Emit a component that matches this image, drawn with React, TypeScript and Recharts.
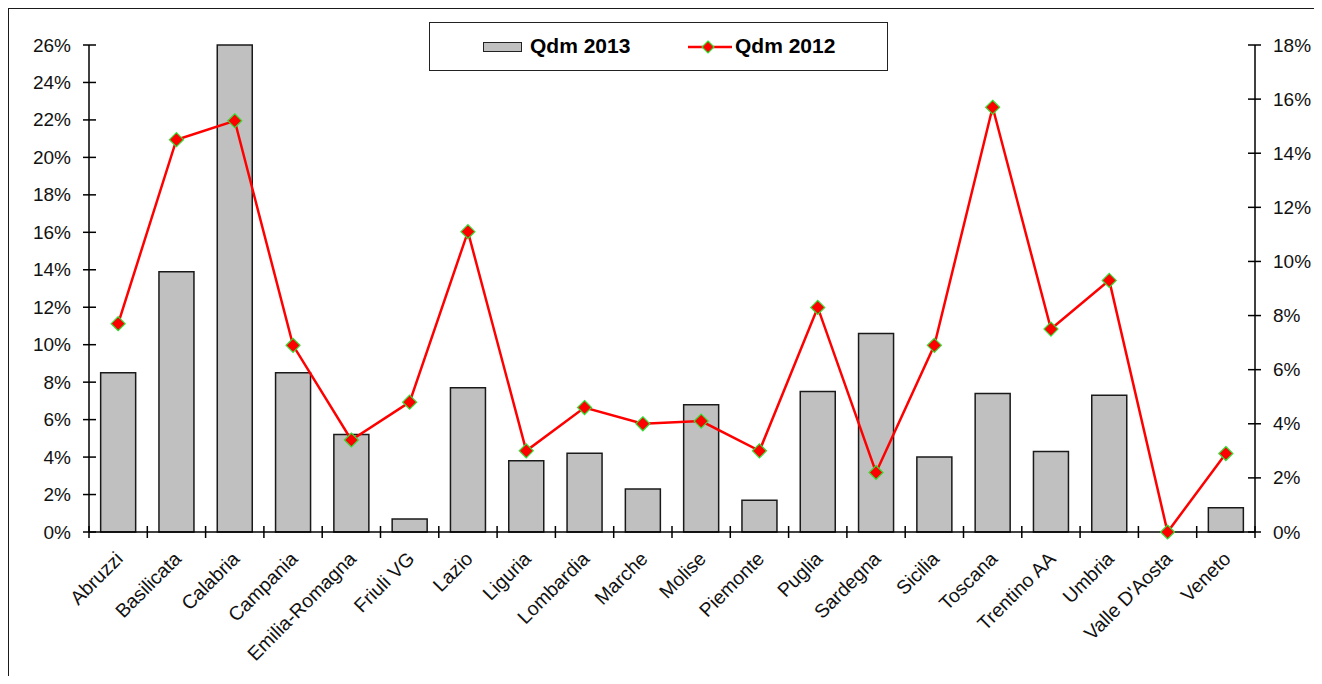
import { ComposedChart, Bar, Line, XAxis, YAxis, Legend } from 'recharts';

const regions = [
  'Abruzzi', 'Basilicata', 'Calabria', 'Campania', 'Emilia-Romagna', 'Friuli VG', 'Lazio',
  'Liguria', 'Lombardia', 'Marche', 'Molise', 'Piemonte', 'Puglia', 'Sardegna', 'Sicilia',
  'Toscana', 'Trentino AA', 'Umbria', "Valle D'Aosta", 'Veneto',
];
// Qdm 2013 (left axis, %)
const qdm2013 = [8.5, 13.9, 26.0, 8.5, 5.2, 0.7, 7.7, 3.8, 4.2, 2.3, 6.8, 1.7, 7.5, 10.6, 4.0, 7.4, 4.3, 7.3, 0, 1.3];
// Qdm 2012 (right axis, %)
const qdm2012 = [7.7, 14.5, 15.2, 6.9, 3.4, 4.8, 11.1, 3.0, 4.6, 4.0, 4.1, 3.0, 8.3, 2.2, 6.9, 15.7, 7.5, 9.3, 0, 2.9];
const leftTicks = [0, 2, 4, 6, 8, 10, 12, 14, 16, 18, 20, 22, 24, 26];
const rightTicks = [0, 2, 4, 6, 8, 10, 12, 14, 16, 18];

const data = regions.map((name, i) => ({ name, q2013: qdm2013[i], q2012: qdm2012[i] }));

const W = 1311;
const H = 675;
const LEFT_W = 80;
const RIGHT_W = 65;
const TOP = 36;
const X_H = 152;
const PLOT_L = LEFT_W;
const PLOT_R = W - RIGHT_W;
const PLOT_B = H - X_H;
const BAND = (PLOT_R - PLOT_L) / regions.length;
const FONT = '"Liberation Sans", Arial, sans-serif';

const LeftTick = ({ y, payload }: any) => (
  <g>
    <line x1={PLOT_L - 6} x2={PLOT_L + 7} y1={y} y2={y} stroke="#000" strokeWidth={1.5} />
    <text x={PLOT_L - 18} y={y} textAnchor="end" dominantBaseline="central" fontSize={19} fontFamily={FONT} fill="#111">
      {payload.value}%
    </text>
  </g>
);

const RightTick = ({ y, payload }: any) => (
  <g>
    <line x1={PLOT_R - 7} x2={PLOT_R + 6} y1={y} y2={y} stroke="#000" strokeWidth={1.5} />
    <text x={PLOT_R + 18} y={y} textAnchor="start" dominantBaseline="central" fontSize={19} fontFamily={FONT} fill="#111">
      {payload.value}%
    </text>
  </g>
);

// category ticks sit on the band edges, labels are slanted under the band centre
const CategoryTick = ({ x, payload, index }: any) => {
  const left = x - BAND / 2;
  const right = x + BAND / 2;
  return (
    <g>
      <line x1={left} x2={left} y1={PLOT_B - 6} y2={PLOT_B + 6} stroke="#000" strokeWidth={1.5} />
      {index === regions.length - 1 && (
        <line x1={right} x2={right} y1={PLOT_B - 6} y2={PLOT_B + 6} stroke="#000" strokeWidth={1.5} />
      )}
      <text
        x={x + 6}
        y={PLOT_B + 28}
        transform={`rotate(-45, ${x + 6}, ${PLOT_B + 28})`}
        textAnchor="end"
        fontSize={19.5}
        fontFamily={FONT}
        fill="#111"
      >
        {payload.value}
      </text>
    </g>
  );
};

// red diamond marker with a thin green rim
const Diamond = ({ cx, cy, size = 7 }: any) => {
  if (cx == null || cy == null) return null;
  const s = size;
  return (
    <polygon
      points={`${cx},${cy - s} ${cx + s},${cy} ${cx},${cy + s} ${cx - s},${cy}`}
      fill="#ff0000"
      stroke="#33dd33"
      strokeWidth={1.2}
    />
  );
};

const LegendBox = () => (
  <div
    style={{
      position: 'relative',
      width: 459,
      height: 49,
      boxSizing: 'border-box',
      border: '1.5px solid #222',
      background: '#fff',
      fontFamily: FONT,
      fontWeight: 'bold',
      fontSize: 21,
      color: '#000',
    }}
  >
    <div
      style={{
        position: 'absolute',
        left: 53,
        top: 19,
        width: 39,
        height: 10,
        boxSizing: 'border-box',
        background: '#c0c0c0',
        border: '1.5px solid #222',
      }}
    />
    <span style={{ position: 'absolute', left: 100, top: 11, lineHeight: '24px' }}>Qdm 2013</span>
    <svg style={{ position: 'absolute', left: 258, top: 14 }} width={44} height={20}>
      <line x1={0} x2={44} y1={10} y2={10} stroke="#ff0000" strokeWidth={2.5} />
      <Diamond cx={20} cy={10} size={6} />
    </svg>
    <span style={{ position: 'absolute', left: 305, top: 11, lineHeight: '24px' }}>Qdm 2012</span>
  </div>
);

export default function App() {
  return (
    <div
      style={{
        width: 1313,
        height: 676,
        marginBottom: -8,
        boxSizing: 'border-box',
        border: '1px solid #1a1a1a',
        borderBottom: 'none',
        background: '#fff',
      }}
    >
      <ComposedChart
        width={W}
        height={H}
        data={data}
        margin={{ top: TOP, right: 0, bottom: 0, left: 0 }}
        barCategoryGap="20%"
      >
        <XAxis
          dataKey="name"
          interval={0}
          height={X_H}
          axisLine={{ stroke: '#000', strokeWidth: 1.5 }}
          tickLine={false}
          tick={<CategoryTick />}
        />
        <YAxis
          yAxisId="left"
          orientation="left"
          width={LEFT_W}
          domain={[0, 26]}
          ticks={leftTicks}
          interval={0}
          axisLine={{ stroke: '#000', strokeWidth: 1.5 }}
          tickLine={false}
          tick={<LeftTick />}
        />
        <YAxis
          yAxisId="right"
          orientation="right"
          width={RIGHT_W}
          domain={[0, 18]}
          ticks={rightTicks}
          interval={0}
          axisLine={{ stroke: '#000', strokeWidth: 1.5 }}
          tickLine={false}
          tick={<RightTick />}
        />
        <Legend
          layout="horizontal"
          verticalAlign="middle"
          align="center"
          wrapperStyle={{ top: 13, left: 420, width: 459, height: 49 }}
          content={<LegendBox />}
        />
        <Bar
          yAxisId="left"
          dataKey="q2013"
          name="Qdm 2013"
          fill="#c0c0c0"
          stroke="#1a1a1a"
          strokeWidth={1.5}
          isAnimationActive={false}
        />
        <Line
          yAxisId="right"
          type="linear"
          dataKey="q2012"
          name="Qdm 2012"
          stroke="#ff0000"
          strokeWidth={2.5}
          dot={<Diamond />}
          activeDot={false}
          isAnimationActive={false}
        />
      </ComposedChart>
    </div>
  );
}
